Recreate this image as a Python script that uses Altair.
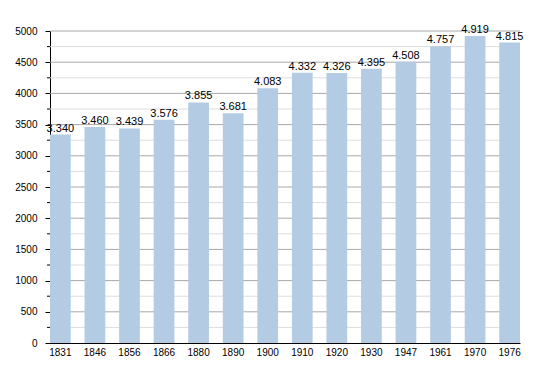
import altair as alt
import pandas as pd

years = ["1831", "1846", "1856", "1866", "1880", "1890", "1900",
         "1910", "1920", "1930", "1947", "1961", "1970", "1976"]
population = [3340, 3460, 3439, 3576, 3855, 3681, 4083,
              4332, 4326, 4395, 4508, 4757, 4919, 4815]
value_labels = ["3.340", "3.460", "3.439", "3.576", "3.855", "3.681", "4.083",
                "4.332", "4.326", "4.395", "4.508", "4.757", "4.919", "4.815"]
major_ticks = [0, 500, 1000, 1500, 2000, 2500, 3000, 3500, 4000, 4500, 5000]
minor_ticks = [250, 750, 1250, 1750, 2250, 2750, 3250, 3750, 4250, 4750]

df = pd.DataFrame({"year": years, "pop": population, "label": value_labels})
minor_df = pd.DataFrame({"v": minor_ticks})
major_df = pd.DataFrame({"v": major_ticks[1:]})

FONT = "Liberation Sans"
y_scale = alt.Scale(domain=[0, 5000], nice=False)
x_scale = alt.Scale(paddingInner=0.4, paddingOuter=0)
y_axis = alt.Axis(title=None, values=major_ticks, tickSize=5, tickColor="black",
                  domainColor="black", labelColor="black", labelFont=FONT,
                  labelFontSize=10, labelPadding=8, grid=False, format="d")

minor_grid = alt.Chart(minor_df).mark_rule(color="#dddddd", strokeWidth=1).encode(
    y=alt.Y("v:Q", scale=y_scale, axis=y_axis)
)
major_grid = alt.Chart(major_df).mark_rule(color="#a8a8a8", strokeWidth=1).encode(
    y=alt.Y("v:Q", scale=y_scale, axis=y_axis)
)
minor_tick = alt.Chart(minor_df).mark_rule(color="black", strokeWidth=1).encode(
    y=alt.Y("v:Q", scale=y_scale, axis=y_axis),
    x=alt.value(-3),
    x2=alt.value(0),
)

bars = alt.Chart(df).mark_bar(fill="#b4cbe4", opacity=1, fillOpacity=1,
                              strokeWidth=0).encode(
    x=alt.X("year:N", sort=years, scale=x_scale,
            axis=alt.Axis(title=None, labelAngle=0, ticks=False, domainColor="black",
                          labelColor="black", labelFont=FONT, labelFontSize=10,
                          labelPadding=4)),
    y=alt.Y("pop:Q", scale=y_scale, axis=y_axis),
)

text = alt.Chart(df).mark_text(font=FONT, fontSize=11, color="black",
                               baseline="alphabetic", dy=-3).encode(
    x=alt.X("year:N", sort=years, scale=x_scale),
    y=alt.Y("pop:Q", scale=y_scale, axis=y_axis),
    text="label:N",
)

chart = alt.layer(minor_grid, major_grid, bars, minor_tick, text).properties(
    width=470, height=312,
    autosize=alt.AutoSizeParams(type="none"),
    padding={"left": 42, "top": 23, "right": 22, "bottom": 22},
).configure_view(stroke=None)

chart.save("out.html", embed_options={"renderer": "svg", "actions": False})
